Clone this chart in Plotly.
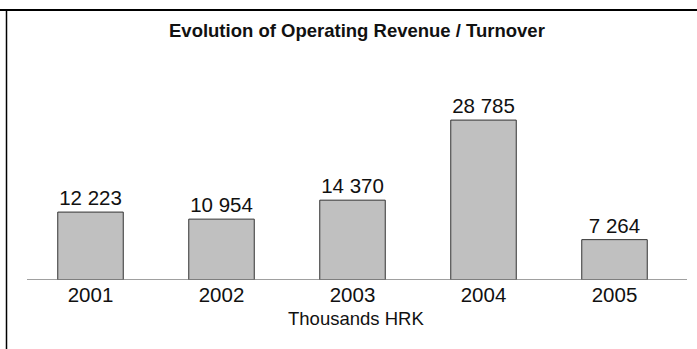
import plotly.graph_objects as go

# Operating revenue by year, thousands HRK
years = ["2001", "2002", "2003", "2004", "2005"]
revenue = [12223, 10954, 14370, 28785, 7264]
value_labels = ["12 223", "10 954", "14 370", "28 785", "7 264"]

W, H = 697, 349
L, R, T, B = 25, 17, 80, 69
pw, ph = W - L - R, H - T - B


def px_x(x):
    return (x - L) / pw


def px_y(y):
    return (H - B - y) / ph


font = "Liberation Sans, Arial, Helvetica, sans-serif"

fig = go.Figure(
    go.Bar(
        x=years,
        y=revenue,
        text=value_labels,
        textposition="outside",
        textfont=dict(size=20.5, color="#111111", family=font),
        cliponaxis=False,
        width=0.5,
        marker=dict(color="#c0c0c0", line=dict(color="#333333", width=1)),
    )
)

fig.update_layout(
    width=W,
    height=H,
    margin=dict(l=L, r=R, t=T, b=B),
    paper_bgcolor="white",
    plot_bgcolor="white",
    showlegend=False,
    font=dict(family=font, color="#111111"),
    xaxis=dict(
        showgrid=False,
        showline=False,
        ticks="",
        tickfont=dict(size=20.5, color="#111111"),
        fixedrange=True,
    ),
    yaxis=dict(
        range=[0, 36000],
        visible=False,
        fixedrange=True,
    ),
    annotations=[
        dict(
            text="<b>Evolution of Operating Revenue / Turnover</b>",
            x=px_x(356.5), y=px_y(31), xref="paper", yref="paper",
            xanchor="center", yanchor="middle", showarrow=False,
            font=dict(size=18.5, color="#111111"),
        ),
        dict(
            text="Thousands HRK",
            x=px_x(355.5), y=px_y(318), xref="paper", yref="paper",
            xanchor="center", yanchor="middle", showarrow=False,
            font=dict(size=18.5, color="#111111"),
        ),
    ],
    shapes=[
        # baseline
        dict(type="line", xref="paper", yref="y", x0=px_x(27), x1=px_x(687),
             y0=0, y1=0, line=dict(color="#808080", width=1.5)),
        # frame lines
        dict(type="line", xref="paper", yref="paper", x0=px_x(0), x1=px_x(697),
             y0=px_y(10), y1=px_y(10), line=dict(color="black", width=2)),
        dict(type="line", xref="paper", yref="paper", x0=px_x(6.5), x1=px_x(6.5),
             y0=px_y(10), y1=px_y(349), line=dict(color="black", width=1.5)),
    ],
)

fig.write_html("out.html")
